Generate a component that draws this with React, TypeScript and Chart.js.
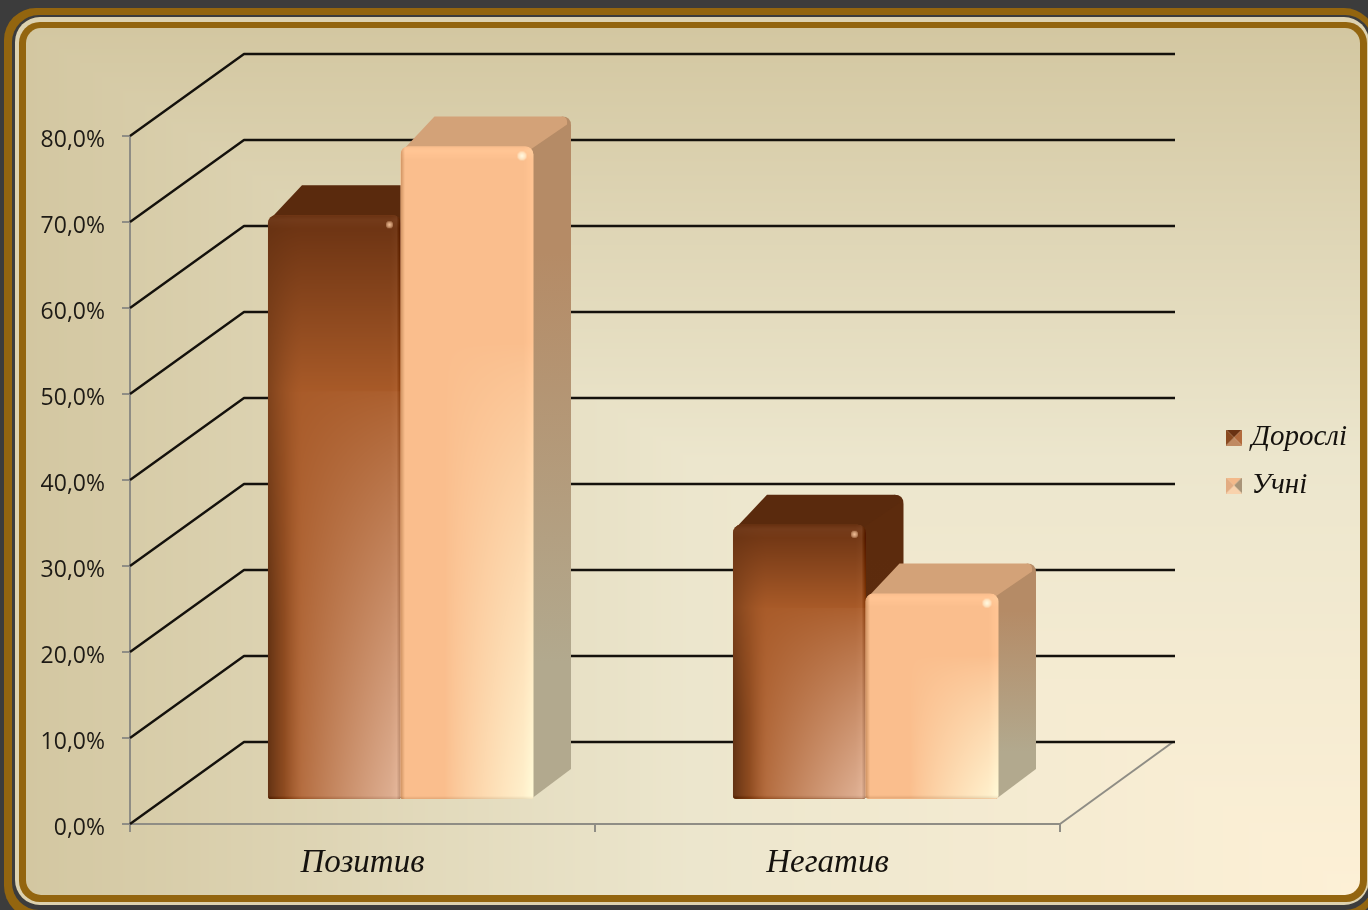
import React, { useEffect, useRef } from "react";
import { Chart, registerables } from "chart.js";

Chart.register(...registerables);

const categories = ["Позитив", "Негатив"];
const adultsLabel = "Дорослі";
const pupilsLabel = "Учні";
const adultsValues = [68, 32];
const pupilsValues = [76, 24];
const tickStep = 10;
const axisMax = 80;

type RGB = [number, number, number];
type Look = {
  top: RGB; mid: RGB; lowRight: RGB; midAt: number; lowFrom: number; uFrom: number;
  leftShade: number; leftEdge: number; rightShade: number;
  roof: string; sideTop: string; sideBottom: string; spot: RGB; spotR: number;
};
const adultsLook: Look = {
  top: [106, 50, 18], mid: [168, 90, 40], lowRight: [224, 178, 150], midAt: 0.3, lowFrom: 0.28, uFrom: 0.12,
  leftShade: 0.85, leftEdge: 0, rightShade: 40, roof: "#5a2a0d", sideTop: "#5c2b0d", sideBottom: "#5e2d0e", spot: [240, 190, 150], spotR: 4,
};
const pupilsLook: Look = {
  top: [250, 190, 141], mid: [250, 190, 141], lowRight: [255, 243, 208], midAt: 0.3, lowFrom: 0.3, uFrom: 0.33,
  leftShade: 0, leftEdge: 40, rightShade: 0, roof: "#d3a278", sideTop: "#b58b66", sideBottom: "#b2a98e", spot: [255, 250, 225], spotR: 5,
};
const shadeColor: RGB = [88, 44, 16];

const depthX = 114, depthY = 82;
const barShiftX = 38, barShiftY = -24;
const barDepthX = 38, barDepthY = 30;
const faceCorners = { topLeft: 8, topRight: 8, bottomLeft: 3, bottomRight: 3 };

const mix = (a: number, b: number, t: number) => a + (b - a) * t;
const unit = (t: number) => Math.max(0, Math.min(1, t));

function faceTexture(w: number, h: number, look: Look) {
  const c = document.createElement("canvas");
  c.width = w; c.height = h;
  const g = c.getContext("2d")!;
  const img = g.createImageData(w, h);
  for (let y = 0; y < h; y++) {
    for (let x = 0; x < w; x++) {
      const u = x / w, v = y / h;
      const tu = Math.pow(unit((u - look.uFrom) / (0.97 - look.uFrom)), 0.8);
      const tv = Math.pow(unit((v - look.lowFrom) / (1 - look.lowFrom)), 0.8);
      const dl = x, dr = w - 1 - x, db = h - 1 - y;
      const dark = dl < 34 ? look.leftShade * Math.pow(1 - dl / 34, 1.5) * Math.min(1, v + 0.3) : 0;
      const rgb = [0, 1, 2].map((i) => {
        const base = v < look.midAt
          ? mix(look.top[i], look.mid[i], v / look.midAt)
          : mix(look.mid[i], look.lowRight[i], tu * tv);
        return mix(base, Math.min(base, shadeColor[i]), dark);
      });
      let shade = 0;
      if (y < 13) shade += 11 * Math.min(1, y / 4) * (1 - y / 13);
      if (dr < 10) shade += 7 * (1 - dr / 10);
      if (db < 3) shade -= 22 * (1 - db / 3);
      if (dl < 4) shade -= look.leftEdge * (1 - dl / 4);
      if (dr < 4) shade -= look.rightShade * (1 - dr / 4);
      const sx = x - (w - 12), sy = y - 9;
      const spot = Math.sqrt(Math.max(0, 1 - Math.sqrt(sx * sx + sy * sy) / look.spotR));
      const p = (y * w + x) * 4;
      for (let i = 0; i < 3; i++) img.data[p + i] = mix(rgb[i] + shade, look.spot[i], spot);
      img.data[p + 3] = 255;
    }
  }
  g.putImageData(img, 0, 0);
  return c;
}

function legendIcon(colors: string[]) {
  const c = document.createElement("canvas");
  c.width = 16; c.height = 16;
  const g = c.getContext("2d")!;
  const pts = [[0, 0, 16, 0], [16, 0, 16, 16], [16, 16, 0, 16], [0, 16, 0, 0]];
  pts.forEach((p, i) => {
    g.fillStyle = colors[i];
    g.beginPath();
    g.moveTo(p[0], p[1]); g.lineTo(p[2], p[3]); g.lineTo(8, 8); g.closePath(); g.fill();
  });
  return c;
}

function panelTexture(w: number, h: number) {
  const c = document.createElement("canvas");
  c.width = w; c.height = h;
  const g = c.getContext("2d")!;
  const img = g.createImageData(w, h);
  const a = [211, 199, 161], m = [236, 230, 205], b = [253, 240, 214];
  for (let y = 0; y < h; y++) {
    for (let x = 0; x < w; x++) {
      const t = Math.min(x / w, y / h);
      const p = (y * w + x) * 4;
      for (let i = 0; i < 3; i++) {
        img.data[p + i] = t < 0.5 ? mix(a[i], m[i], t / 0.5) : mix(m[i], b[i], (t - 0.5) / 0.5);
      }
      img.data[p + 3] = 255;
    }
  }
  g.putImageData(img, 0, 0);
  return c;
}

function rr(ctx: CanvasRenderingContext2D, x0: number, y0: number, x1: number, y1: number, r: number, fill: any) {
  ctx.fillStyle = fill;
  ctx.beginPath();
  ctx.roundRect(x0, y0, x1 - x0, y1 - y0, r);
  ctx.fill();
}

const framePlugin = {
  id: "frame",
  beforeDraw(chart: any) {
    const ctx: CanvasRenderingContext2D = chart.ctx;
    ctx.save();
    ctx.fillStyle = "#3c3c3c";
    ctx.fillRect(0, 0, 1368, 910);
    rr(ctx, 4, 8, 1376, 918, 32, "#93650f");
    rr(ctx, 12, 15, 1372, 910, 27, "#3c3c3c");
    rr(ctx, 15, 17, 1369, 905, 25, "#ddd2b0");
    rr(ctx, 19, 22, 1367, 902, 21, "#93650f");
    ctx.beginPath();
    ctx.roundRect(26, 28, 1334, 867, 15);
    ctx.clip();
    ctx.drawImage(panelTexture(1334, 867), 26, 28);
    ctx.restore();
  },
};

const wallPlugin = {
  id: "wall",
  afterLayout(chart: any) {
    const lg = chart.legend;
    const pad = lg.options.labels.padding;
    lg.left = 1231 - pad; lg.right = 1360;
    lg.top = 423 - pad; lg.bottom = 524;
  },
  beforeDatasetsDraw(chart: any) {
    const ctx: CanvasRenderingContext2D = chart.ctx;
    const { x, y } = chart.scales;
    const l = x.left, r = x.right, base = y.getPixelForValue(0);
    ctx.save();
    ctx.strokeStyle = "#8f8d85";
    ctx.lineWidth = 2;
    ctx.beginPath();
    ctx.moveTo(r, base);
    ctx.lineTo(r + depthX - 1, base - depthY);
    ctx.stroke();
    ctx.strokeStyle = "#14110c";
    ctx.lineWidth = 2.4;
    ctx.lineJoin = "round";
    for (let v = 0; v <= axisMax; v += tickStep) {
      const py = y.getPixelForValue(v);
      ctx.beginPath();
      ctx.moveTo(l, py);
      ctx.lineTo(l + depthX, py - depthY);
      ctx.lineTo(r + depthX + 1, py - depthY);
      ctx.stroke();
    }
    ctx.restore();
  },
  // Chart.js paints the first dataset last; the right-hand series has to cover the left-hand one.
  beforeDatasetDraw() {
    return false;
  },
  afterDatasetsDraw(chart: any) {
    const ctx: CanvasRenderingContext2D = chart.ctx;
    ctx.save();
    ctx.translate(barShiftX, barShiftY);
    chart.data.datasets.forEach((ds: any, index: number) => {
      const meta = chart.getDatasetMeta(index);
      const look: Look = ds.look;
      for (const bar of meta.data as any[]) {
        const l = bar.x - bar.width / 2, r = bar.x + bar.width / 2, t = bar.y, b = bar.base;
        const dx = barDepthX, dy = barDepthY, k = 9;
        const side = ctx.createLinearGradient(0, t - dy, 0, b);
        side.addColorStop(0, look.sideTop);
        side.addColorStop(0.2, look.sideTop);
        side.addColorStop(0.8, look.sideBottom);
        side.addColorStop(1, look.sideBottom);
        ctx.fillStyle = side;
        ctx.beginPath();
        ctx.moveTo(r - 4, t);
        ctx.lineTo(r + dx - k, t - dy);
        ctx.quadraticCurveTo(r + dx, t - dy, r + dx, t - dy + k);
        ctx.lineTo(r + dx, b - dy);
        ctx.lineTo(r - 2, b);
        ctx.closePath();
        ctx.fill();
        ctx.fillStyle = look.roof;
        ctx.beginPath();
        ctx.moveTo(l + 2, t + 4);
        ctx.lineTo(l + dx - 4, t - dy);
        ctx.lineTo(r + dx - k, t - dy);
        ctx.quadraticCurveTo(r + dx - 3, t - dy, r + dx - 4, t - dy + 8);
        ctx.lineTo(r - 4, t + 4);
        ctx.closePath();
        ctx.fill();
      }
      meta.controller.draw();
      for (const bar of meta.data as any[]) {
        const l = bar.x - bar.width / 2, t = bar.y;
        const w = Math.round(bar.width), h = Math.round(bar.base - bar.y);
        ctx.save();
        ctx.beginPath();
        ctx.roundRect(l, t, w, h, [faceCorners.topLeft, faceCorners.topRight, faceCorners.bottomRight, faceCorners.bottomLeft]);
        ctx.clip();
        ctx.drawImage(faceTexture(w, h, look), l, t);
        ctx.restore();
      }
    });
    ctx.restore();
  },
};

export default function App() {
  const ref = useRef<HTMLCanvasElement | null>(null);
  useEffect(() => {
    document.body.style.margin = "0";
    const icons = [
      legendIcon(["#6a3212", "#b26a3c", "#c08a62", "#8a4a20"]),
      legendIcon(["#f3b98a", "#a89478", "#f8d2ac", "#e2ac82"]),
    ];
    const serif = { family: "'Liberation Serif', serif", style: "italic" as const };
    const chart = new Chart(ref.current!, {
      type: "bar",
      data: {
        labels: categories,
        datasets: [
          { label: adultsLabel, data: adultsValues, backgroundColor: "#8a4a20", look: adultsLook, borderRadius: faceCorners, borderSkipped: false, clip: false } as any,
          { label: pupilsLabel, data: pupilsValues, backgroundColor: "#fabe8d", look: pupilsLook, borderRadius: faceCorners, borderSkipped: false, clip: false } as any,
        ],
      },
      options: {
        responsive: false,
        animation: false,
        layout: { padding: { left: 0, top: 136, right: 308, bottom: 0 } },
        datasets: { bar: { categoryPercentage: 0.57, barPercentage: 1 } },
        plugins: {
          tooltip: { enabled: false },
          title: { display: false },
          legend: {
            position: "chartArea" as any,
            align: "start",
            labels: {
              usePointStyle: true,
              boxWidth: 16,
              boxHeight: 16,
              pointStyleWidth: 6,
              padding: 19,
              color: "#15120e",
              font: { ...serif, size: 29 },
              generateLabels: (c: any) =>
                c.data.datasets.map((d: any, i: number) => ({
                  text: d.label,
                  pointStyle: icons[i],
                  datasetIndex: i,
                  fontColor: "#15120e",
                  lineWidth: 0,
                })),
            },
          },
        },
        scales: {
          x: {
            offset: true,
            afterFit: (s: any) => { s.height = 86; },
            border: { display: true, color: "#8f8d85", width: 2 },
            grid: { display: true, drawOnChartArea: false, drawTicks: true, tickLength: 8, color: "#8f8d85", lineWidth: 2 },
            ticks: { color: "#15120e", font: { ...serif, size: 33 }, padding: 12, maxRotation: 0 },
          },
          y: {
            min: 0,
            max: axisMax,
            afterFit: (s: any) => { s.width = 130; },
            border: { display: true, color: "#8f8d85", width: 2 },
            grid: { display: true, drawOnChartArea: false, drawTicks: true, tickLength: 8, color: "#8f8d85", lineWidth: 2 },
            ticks: {
              stepSize: tickStep,
              padding: 17,
              labelOffset: 4,
              color: "#1d1a15",
              font: { family: "'Open Sans', sans-serif", size: 23 },
              callback: (v: any) => Number(v).toFixed(1).replace(".", ",") + "%",
            },
          },
        },
      },
      plugins: [framePlugin, wallPlugin],
    } as any);
    return () => chart.destroy();
  }, []);
  return <canvas ref={ref} width={1368} height={910} style={{ display: "block" }} />;
}
